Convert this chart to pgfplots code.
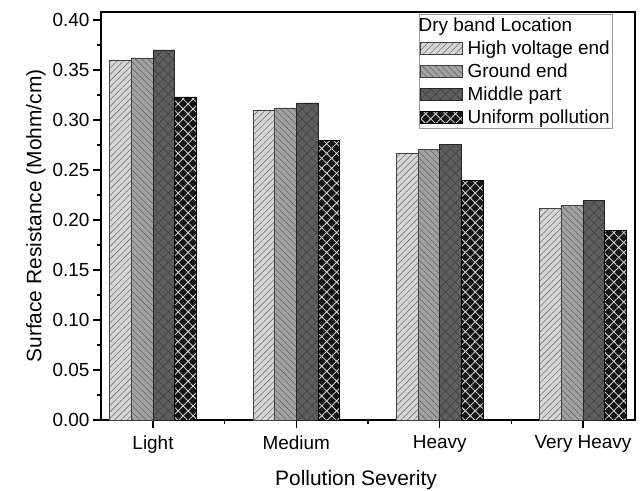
\documentclass[border=0pt]{standalone}
\usepackage{fontspec}
\setmainfont{Liberation Sans}
\usepackage{pgfplots}
\pgfplotsset{compat=1.18}
\usetikzlibrary{patterns.meta}

\definecolor{hvfill}{HTML}{D6D6D6}
\definecolor{gefill}{HTML}{A2A2A2}
\definecolor{mpfill}{HTML}{5E5E5E}
\definecolor{upfill}{HTML}{141414}

\pgfplotsset{
  boxlegend/.style={legend image code/.code={\draw[##1] (0bp,-6bp) rectangle (42bp,6bp);}},
}

\begin{document}
\begin{tikzpicture}
\begin{axis}[
    scale only axis,
    width=534bp, height=408bp,
    ybar=0pt, bar width=0.151,
    xmin=-0.363, xmax=3.363,
    ymin=0, ymax=0.408,
    xtick={0,1,2,3},
    xticklabels={Light,Medium,Heavy,Very Heavy},
    minor xtick={0.5,1.5,2.5},
    ytick={0,0.05,...,0.40},
    minor y tick num=1,
    tick pos=left,
    tick align=outside,
    major tick length=8bp,
    minor tick length=4bp,
    every tick/.style={black, line width=1.2bp},
    axis line style={line width=1.6bp},
    yticklabel style={/pgf/number format/.cd, fixed, fixed zerofill, precision=2, assume math mode=true},
    ticklabel style={font=\fontsize{19}{22}\selectfont},
    xticklabel style={yshift=-4bp},
    label style={font=\fontsize{21}{25}\selectfont},
    xlabel={Pollution Severity},
    ylabel={Surface Resistance (Mohm/cm)},
    xlabel style={yshift=-10bp, xshift=-12bp},
    legend style={at={(axis description cs:0.959,0.995)}, anchor=north east,
        draw=gray!80, line width=0.8bp, font=\fontsize{19}{22}\selectfont,
        inner xsep=1bp, inner ysep=1bp, row sep=4bp, column sep=3bp},
    legend cell align=left,
]
\addlegendimage{empty legend}
\addlegendentry{\hspace*{-49bp}Dry band Location}

\addplot[boxlegend, draw=black!75, line width=0.7bp, fill=hvfill,
  postaction={pattern={Lines[angle=45,distance=4.5bp,line width=0.6bp]}, pattern color=black!55}]
  coordinates {(0,0.360) (1,0.310) (2,0.267) (3,0.212)};
\addlegendentry{High voltage end}

\addplot[boxlegend, draw=black!75, line width=0.7bp, fill=gefill,
  postaction={pattern={Lines[angle=-45,distance=4.5bp,line width=0.6bp]}, pattern color=black!60}]
  coordinates {(0,0.362) (1,0.312) (2,0.271) (3,0.215)};
\addlegendentry{Ground end}

\addplot[boxlegend, draw=black!85, line width=0.7bp, fill=mpfill,
  postaction={pattern={Hatch[angle=45,distance=7bp,line width=0.6bp]}, pattern color=black!75}]
  coordinates {(0,0.370) (1,0.317) (2,0.276) (3,0.220)};
\addlegendentry{Middle part}

\addplot[boxlegend, draw=black, line width=0.7bp, fill=upfill,
  postaction={pattern={Hatch[angle=45,distance=7bp,line width=0.8bp]}, pattern color=white!85!black}]
  coordinates {(0,0.323) (1,0.280) (2,0.240) (3,0.190)};
\addlegendentry{Uniform pollution}

\coordinate (bbsw) at (axis description cs:-0.1891,-0.1716);
\coordinate (bbne) at (axis description cs:1.0112,1.0294);
\end{axis}
\pgfresetboundingbox
\path (bbsw) rectangle (bbne);
\end{tikzpicture}
\end{document}
